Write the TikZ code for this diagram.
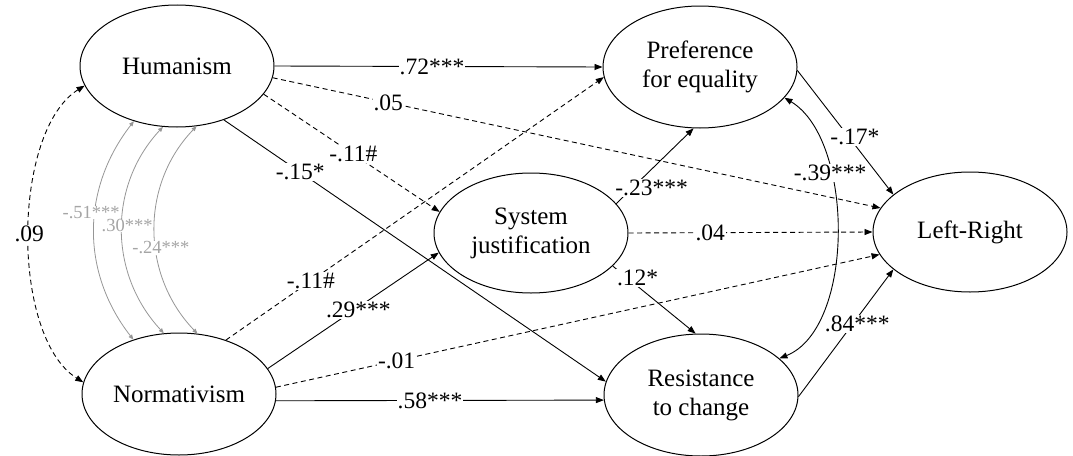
\documentclass[tikz,border=0pt]{standalone}
\usepackage{fontspec}
\setmainfont{Liberation Serif}
\usetikzlibrary{arrows.meta,shapes.geometric}
\definecolor{arcgray}{RGB}{150,150,150}
\definecolor{txtgray}{RGB}{165,165,165}
\tikzset{
  var/.style={ellipse, draw, line width=1pt, minimum width=194pt, minimum height=122pt,
    inner sep=0pt, align=center, font=\fontsize{25}{29}\selectfont},
  pth/.style={line width=0.9pt, -{Triangle[length=8pt,width=6pt]}},
  dpth/.style={pth, dash pattern=on 5pt off 3.5pt},
  lbl/.style={fill=white, inner sep=1pt, font=\fontsize{23.5}{26}\selectfont},
  glbl/.style={fill=white, inner sep=0.5pt, text=txtgray, font=\fontsize{18.5}{20}\selectfont},
  corr/.style={line width=0.8pt, arcgray, {Triangle[length=5pt,width=4pt]}-{Triangle[length=5pt,width=4pt]}},
}
\begin{document}
\begin{tikzpicture}[x=1pt,y=1pt]
\useasboundingbox (0,0) rectangle (1073,-455);
\node[var] (hum)  at (177,-66)  {Humanism};
\node[var] (norm) at (179,-394) {Normativism};
\node[var] (pref) at (700,-67)  {Preference\\for equality};
\node[var] (res)  at (701,-395) {Resistance\\to change};
\node[var, minimum height=120pt] (sys)  at (531,-233) {System\\justification};
\node[var, minimum height=120pt] (lr)   at (970,-232) {Left-Right};

% correlations between exogenous variables
\draw[corr] (hum.232) to[out=232,in=128] node[glbl, pos=0.42, xshift=-4pt] {-.51***} (norm.130);
\draw[corr] (hum.257) to[out=227,in=133] node[glbl, pos=0.48, xshift=5pt] {.30***} (norm.104.7);
\draw[corr] (hum.288) to[out=226,in=134] node[glbl, pos=0.58, xshift=5pt] {-.24***} (norm.73.6);
\draw[line width=0.9pt, dash pattern=on 5pt off 3.5pt, {Triangle[length=8pt,width=6pt]}-{Triangle[length=8pt,width=6pt]}]
  (hum.192.6) to[out=212,in=148,looseness=0.74] node[fill=white, inner sep=1pt, font=\fontsize{23.5}{26}\selectfont] {.09} (norm.173.5);

% paths
\draw[pth]  (hum.east) -- node[lbl, pos=0.48] {.72***} (pref.west);
\draw[dpth] (hum.-7) -- node[lbl, pos=0.19] {.05} (lr.165.5);
\draw[dpth] (hum.-18) -- node[lbl, pos=0.51] {-.11\#} (sys.167);
\draw[pth]  (hum.-49.4) -- node[lbl, pos=0.2] {-.15*} (res.172.4);
\draw[dpth] (norm.49.6) -- node[lbl, pos=0.225] {-.11\#} (pref.-174);
\draw[pth]  (norm.16.3) -- node[lbl, pos=0.53, yshift=-3pt] {.29***} (sys.192);
\draw[dpth] (norm.4) -- node[lbl, pos=0.2] {-.01} (lr.194);
\draw[pth]  (norm.-4) -- node[lbl, pos=0.47] {.58***} (res.183);
\draw[pth]  (sys.19.8) -- node[lbl, pos=0.25, xshift=16pt, yshift=-3pt] {-.23***} (pref.-96);
\draw[dpth] (sys.east) -- node[lbl, pos=0.335] {.04} (lr.west);
\draw[pth]  (sys.-22.8) -- node[lbl, pos=0.3, yshift=8pt] {.12*} (res.95.5);
\draw[pth]  (pref.-2) -- node[lbl, pos=0.6, yshift=8pt] {-.17*} (lr.154.6);
\draw[pth]  (res.-1) -- node[lbl, pos=0.62, yshift=-6pt] {.84***} (lr.206);
\draw[line width=0.9pt, {Triangle[length=8pt,width=6pt]}-{Triangle[length=8pt,width=6pt]}]
  (pref.-20) to[out=-31,in=22,looseness=0.8] node[lbl, pos=0.32] {-.39***} (res.25);
\end{tikzpicture}
\end{document}
